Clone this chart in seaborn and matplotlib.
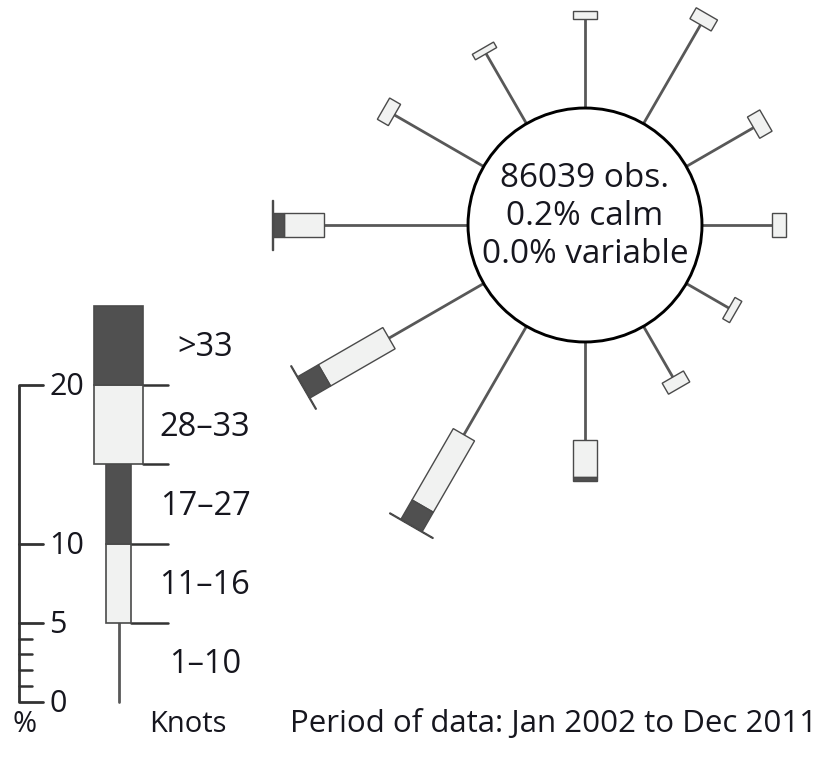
import numpy as np
import pandas as pd
import matplotlib
matplotlib.use("Agg")
import matplotlib.pyplot as plt
from matplotlib.patches import Polygon, Circle
import seaborn as sns

# wind direction (deg clockwise from north) and % frequency per speed band
directions = [0, 30, 60, 90, 120, 150, 180, 210, 240, 270, 300, 330]
pct_1_10 = [5.6, 7.2, 4.9, 4.4, 3.1, 3.7, 6.2, 7.9, 6.9, 9.1, 6.5, 5.1]
pct_11_16 = [0.5, 0.8, 0.9, 0.9, 0.5, 0.8, 2.3, 5.2, 4.7, 2.5, 0.8, 0.4]
pct_17_27 = [0, 0, 0, 0, 0, 0, 0.3, 1.4, 1.5, 0.7, 0, 0]
pct_28_33 = [0, 0, 0, 0, 0, 0, 0, 0.05, 0.05, 0.05, 0, 0]
pct_over_33 = [0, 0, 0, 0, 0, 0, 0, 0, 0, 0, 0, 0]

band_labels = ["1–10", "11–16", "17–27", "28–33", ">33"]
legend_step = 5          # % represented by each band in the key
scale_major = [0, 5, 10, 20]
scale_minor = [1, 2, 3, 4]

n_obs = 86039
calm_pct = 0.2
variable_pct = 0.0
period = "Jan 2002 to Dec 2011"

# look
DARK = "#505050"
LIGHT = "#f1f2f1"
EDGE = "#4a4a4a"
STEM = "#585858"
INK = "#16161e"
PX = 15.85               # pixels per 1 %
R0 = 7.38                # radius of the centre circle, in %
NARROW, WIDE = 1.55, 3.15
band_style = [None, (NARROW, LIGHT), (NARROW, DARK), (WIDE, LIGHT), (WIDE, DARK)]

sns.set_theme(style="white")
plt.rcParams["font.family"] = ["Open Sans", "DejaVu Sans"]

fig = plt.figure(figsize=(8.37, 7.57), dpi=100)
ax = fig.add_axes([0, 0, 1, 1])
ax.set_xlim(-585 / PX, (837 - 585) / PX)
ax.set_ylim(-(757 - 225) / PX, 225 / PX)
ax.set_aspect("equal")
ax.axis("off")


def seg(theta, r0, r1, w):
    u = np.array([np.sin(theta), np.cos(theta)])
    v = np.array([np.cos(theta), -np.sin(theta)])
    return [r0 * u + w / 2 * v, r1 * u + w / 2 * v, r1 * u - w / 2 * v, r0 * u - w / 2 * v]


bands = np.array([pct_1_10, pct_11_16, pct_17_27, pct_28_33, pct_over_33])

# stems (1-10 kn) through seaborn
rows = []
for d, b1 in zip(directions, pct_1_10):
    t = np.deg2rad(d)
    for r in (R0, R0 + b1):
        rows.append({"dir": d, "x": r * np.sin(t), "y": r * np.cos(t)})
stems = pd.DataFrame(rows)
sns.lineplot(data=stems, x="x", y="y", units="dir", estimator=None, sort=False,
             color=STEM, lw=2.0, legend=False, ax=ax)

# boxes for the stronger bands
for j, d in enumerate(directions):
    t = np.deg2rad(d)
    r = R0 + bands[0, j]
    for k in range(1, 5):
        val = bands[k, j]
        if val <= 0:
            continue
        w, fc = band_style[k]
        ax.add_patch(Polygon(seg(t, r, r + val, w), closed=True, fc=fc, ec=EDGE, lw=1.0, zorder=3))
        r += val

ax.add_patch(Circle((0, 0), R0, fc="white", ec="black", lw=2.1, zorder=4))
ax.text(0, 2.95, f"{n_obs} obs.", ha="center", va="center", fontsize=24, color=INK, zorder=5)
ax.text(0, 0.55, f"{calm_pct:.1f}% calm", ha="center", va="center", fontsize=24, color=INK, zorder=5)
ax.text(0, -1.85, f"{variable_pct:.1f}% variable", ha="center", va="center", fontsize=24, color=INK, zorder=5)

# key
LX0 = (19 - 585) / PX     # ruler
LY0 = (225 - 702) / PX    # 0 % level
LXB = (118.5 - 585) / PX  # centre of key bar
LXS = (168 - 585) / PX    # right end of separators
LXT = (205 - 585) / PX    # band label centre

ax.plot([LX0, LX0], [LY0, LY0 + scale_major[-1]], color="#333333", lw=2.0, solid_capstyle="butt")
for v in scale_major:
    ax.plot([LX0, LX0 + 1.5], [LY0 + v, LY0 + v], color="#333333", lw=2.0)
    ax.text(LX0 + 1.9, LY0 + v - 0.15, str(v), ha="left", va="center", fontsize=22, color=INK)
for v in scale_minor:
    ax.plot([LX0, LX0 + 0.8], [LY0 + v, LY0 + v], color="#333333", lw=1.8)

key = pd.DataFrame({"x": [LXB, LXB], "y": [LY0, LY0 + legend_step]})
sns.lineplot(data=key, x="x", y="y", estimator=None, sort=False, color=STEM, lw=2.0, ax=ax)
for k in range(1, 5):
    w, fc = band_style[k]
    y0 = LY0 + k * legend_step
    ax.add_patch(Polygon([(LXB - w / 2, y0), (LXB + w / 2, y0), (LXB + w / 2, y0 + legend_step),
                          (LXB - w / 2, y0 + legend_step)], closed=True, fc=fc, ec=EDGE, lw=1.2, zorder=3))
    ax.plot([LXB + w / 2, LXS], [y0, y0], color="#333333", lw=1.8)
for k, lab in enumerate(band_labels):
    ax.text(LXT, LY0 + (k + 0.5) * legend_step - 0.15, lab, ha="center", va="center", fontsize=23.5, color=INK)

yb = (225 - 724) / PX
ax.text((25 - 585) / PX, yb, "%", ha="center", va="center", fontsize=21, color=INK)
ax.text((188 - 585) / PX, yb, "Knots", ha="center", va="center", fontsize=21, color=INK)
ax.text((290 - 585) / PX, yb, f"Period of data: {period}", ha="left", va="center", fontsize=22.5, color=INK)

fig.savefig("out.png", dpi=100)
